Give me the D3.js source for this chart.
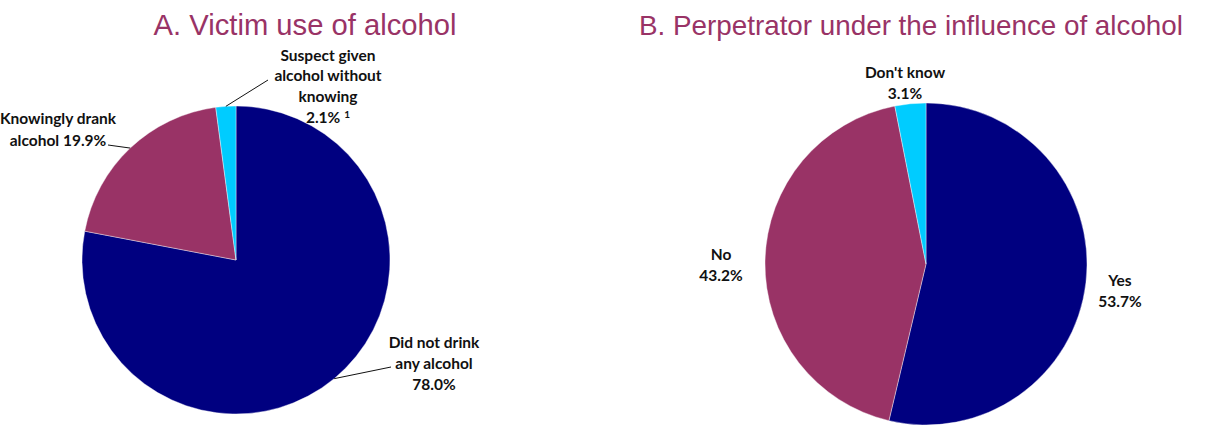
<!DOCTYPE html>
<html>
<head>
<meta charset="utf-8">
<script src="https://cdn.jsdelivr.net/npm/d3@7"></script>
<style>
  html, body { margin: 0; padding: 0; background: #fff; overflow: hidden; }
  svg { display: block; }
  .title { font-family: "Liberation Sans", Arial, sans-serif; fill: #993366; }
  .lbl { font-family: Lato, "Open Sans", sans-serif; font-weight: bold; font-size: 15.5px; fill: #111; }
</style>
</head>
<body>
<svg id="chart" width="1218" height="425"></svg>
<script>
// Panel A: victim's use of alcohol
const victimCategories = ["Did not drink any alcohol", "Knowingly drank alcohol", "Suspect given alcohol without knowing"];
const victimValues = [78.0, 19.9, 2.1];
const victimLabelLines = [["Did not drink", "any alcohol", "78.0%"], ["Knowingly drank", "alcohol 19.9%"], ["Suspect given", "alcohol without", "knowing", "2.1%"]];

// Panel B: perpetrator under the influence of alcohol
const perpCategories = ["Yes", "No", "Don't know"];
const perpValues = [53.7, 43.2, 3.1];
const perpLabelLines = [["Yes", "53.7%"], ["No", "43.2%"], ["Don't know", "3.1%"]];

const sliceColors = ["#000080", "#993366", "#00CCFF"];

const svg = d3.select("#chart");

function drawPie(opts) {
  const g = svg.append("g").attr("transform", `translate(${opts.cx},${opts.cy})`);
  const color = d3.scaleOrdinal().domain(opts.categories).range(sliceColors);
  const pie = d3.pie().sort(null).value(d => d.value);
  const data = opts.categories.map((c, i) => ({ category: c, value: opts.values[i], lines: opts.lines[i] }));
  const arcs = pie(data);
  const arc = d3.arc().innerRadius(0).outerRadius(opts.r);

  g.selectAll("path.slice")
    .data(arcs)
    .join("path")
    .attr("class", "slice")
    .attr("d", arc)
    .attr("fill", d => color(d.data.category))
    .attr("stroke", "#fff")
    .attr("stroke-width", 0.4);

  // labels
  arcs.forEach((a, i) => {
    const lay = opts.labels[i];
    const t = svg.append("text")
      .attr("class", "lbl")
      .attr("text-anchor", "middle");
    a.data.lines.forEach((ln, j) => {
      t.append("tspan")
        .attr("x", lay.x)
        .attr("y", lay.y + j * lay.step)
        .text(ln);
      if (lay.note && j === a.data.lines.length - 1) {
        t.append("tspan")
          .attr("dx", 4)
          .attr("dy", -5)
          .attr("font-size", "10px")
          .text(lay.note);
      }
    });
    if (lay.leader) {
      const mid = (a.startAngle + a.endAngle) / 2;
      const p0 = [opts.cx + opts.r * Math.sin(mid), opts.cy - opts.r * Math.cos(mid)];
      svg.append("line")
        .attr("x1", p0[0]).attr("y1", p0[1])
        .attr("x2", lay.leader[0]).attr("y2", lay.leader[1])
        .attr("stroke", "#111")
        .attr("stroke-width", 1);
    }
  });

  svg.append("text")
    .attr("class", "title")
    .attr("x", opts.titleX)
    .attr("y", 35)
    .attr("font-size", opts.titleSize)
    .attr("text-anchor", "middle")
    .text(opts.title);
}

drawPie({
  title: "A. Victim use of alcohol",
  titleX: 305,
  titleSize: "29.2px",
  cx: 236, cy: 260, r: 154,
  categories: victimCategories,
  values: victimValues,
  lines: victimLabelLines,
  labels: [
    { x: 434, y: 347.5, step: 21, leader: [391, 367] },
    { x: 58, y: 123.5, step: 22.5, leader: [108, 145] },
    { x: 328, y: 60.5, step: 20.7, leader: [268, 80], note: "1" }
  ]
});

drawPie({
  title: "B. Perpetrator under the influence of alcohol",
  titleX: 911,
  titleSize: "27.8px",
  cx: 926, cy: 264, r: 161,
  categories: perpCategories,
  values: perpValues,
  lines: perpLabelLines,
  labels: [
    { x: 1120, y: 285.5, step: 21 },
    { x: 721, y: 259.5, step: 21 },
    { x: 905, y: 77.5, step: 21 }
  ]
});
</script>
</body>
</html>
